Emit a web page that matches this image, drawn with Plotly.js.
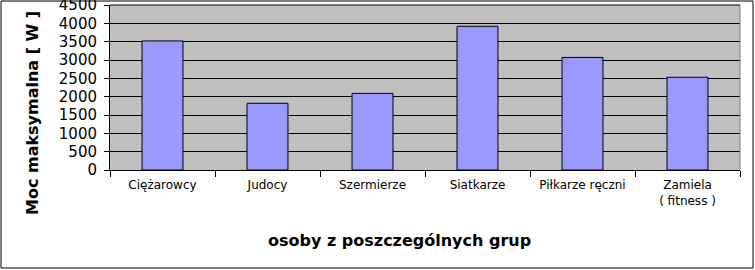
<!DOCTYPE html>
<html>
<head>
<meta charset="utf-8">
<script src="https://cdn.plot.ly/plotly-3.0.1.min.js"></script>
<style>
html,body{margin:0;padding:0;background:#fff;}
#chart{width:755px;height:270px;}
</style>
</head>
<body>
<div id="chart"></div>
<script>
const categories = ["Ciężarowcy", "Judocy", "Szermierze", "Siatkarze", "Piłkarze ręczni", "Zamiela<br>( fitness )"];
const values = [3520, 1820, 2090, 3920, 3070, 2530];
const yTitle = "Moc maksymalna [ W ]";
const xTitle = "osoby z poszczególnych grup";

const trace = {
  type: "bar",
  x: categories,
  y: values,
  marker: {color: "#9999ff", line: {color: "#000000", width: 1}},
  width: 0.39,
  hoverinfo: "skip"
};

const layout = {
  width: 755,
  height: 270,
  margin: {l: 110, r: 15, t: 5, b: 100, pad: 0},
  paper_bgcolor: "#ffffff",
  plot_bgcolor: "#c0c0c0",
  showlegend: false,
  font: {family: "DejaVu Sans, sans-serif", color: "#000000"},
  xaxis: {
    type: "category",
    tickson: "boundaries",
    ticks: "outside",
    ticklen: 6,
    tickcolor: "#000000",
    tickwidth: 1,
    showline: true,
    linecolor: "#000000",
    linewidth: 1,
    showgrid: false,
    tickfont: {family: "DejaVu Sans, sans-serif", size: 12, color: "#000000"},
    ticklabelstandoff: 4,
    mirror: false
  },
  yaxis: {
    range: [0, 4500],
    dtick: 500,
    tick0: 0,
    ticks: "outside",
    ticklen: 5,
    tickcolor: "#000000",
    showline: true,
    linecolor: "#000000",
    linewidth: 1,
    showgrid: true,
    gridcolor: "#000000",
    gridwidth: 1,
    zeroline: false,
    tickfont: {family: "DejaVu Sans, sans-serif", size: 15, color: "#000000"},
    ticklabelstandoff: 4,
    ticklabeloverflow: "allow"
  },
  shapes: [
    {type: "line", xref: "paper", yref: "paper", x0: 1, x1: 1, y0: 0, y1: 1,
     line: {color: "#808080", width: 1}},
    {type: "line", xref: "paper", yref: "paper", x0: 0, x1: 1, y0: 1, y1: 1,
     line: {color: "#000000", width: 1}},
    {type: "rect", xref: "paper", yref: "paper",
     x0: (1 - 110) / 630, x1: (753 - 110) / 630,
     y0: (170 - 268) / 165, y1: (170 - 1) / 165,
     line: {color: "#000000", width: 1}, fillcolor: "rgba(0,0,0,0)", layer: "above"}
  ],
  annotations: [
    {text: "<b>" + yTitle + "</b>", xref: "paper", yref: "paper",
     x: (32 - 110) / 630, y: (170 - 113) / 165, xanchor: "center", yanchor: "middle",
     textangle: -90, showarrow: false,
     font: {family: "DejaVu Sans, sans-serif", size: 16, color: "#000000"}},
    {text: "<b>" + xTitle + "</b>", xref: "paper", yref: "paper",
     x: (399 - 110) / 630, y: (170 - 240) / 165, xanchor: "center", yanchor: "middle",
     showarrow: false,
     font: {family: "DejaVu Sans, sans-serif", size: 16, color: "#000000"}}
  ]
};

Plotly.newPlot("chart", [trace], layout, {displayModeBar: false, staticPlot: true});
</script>
</body>
</html>
